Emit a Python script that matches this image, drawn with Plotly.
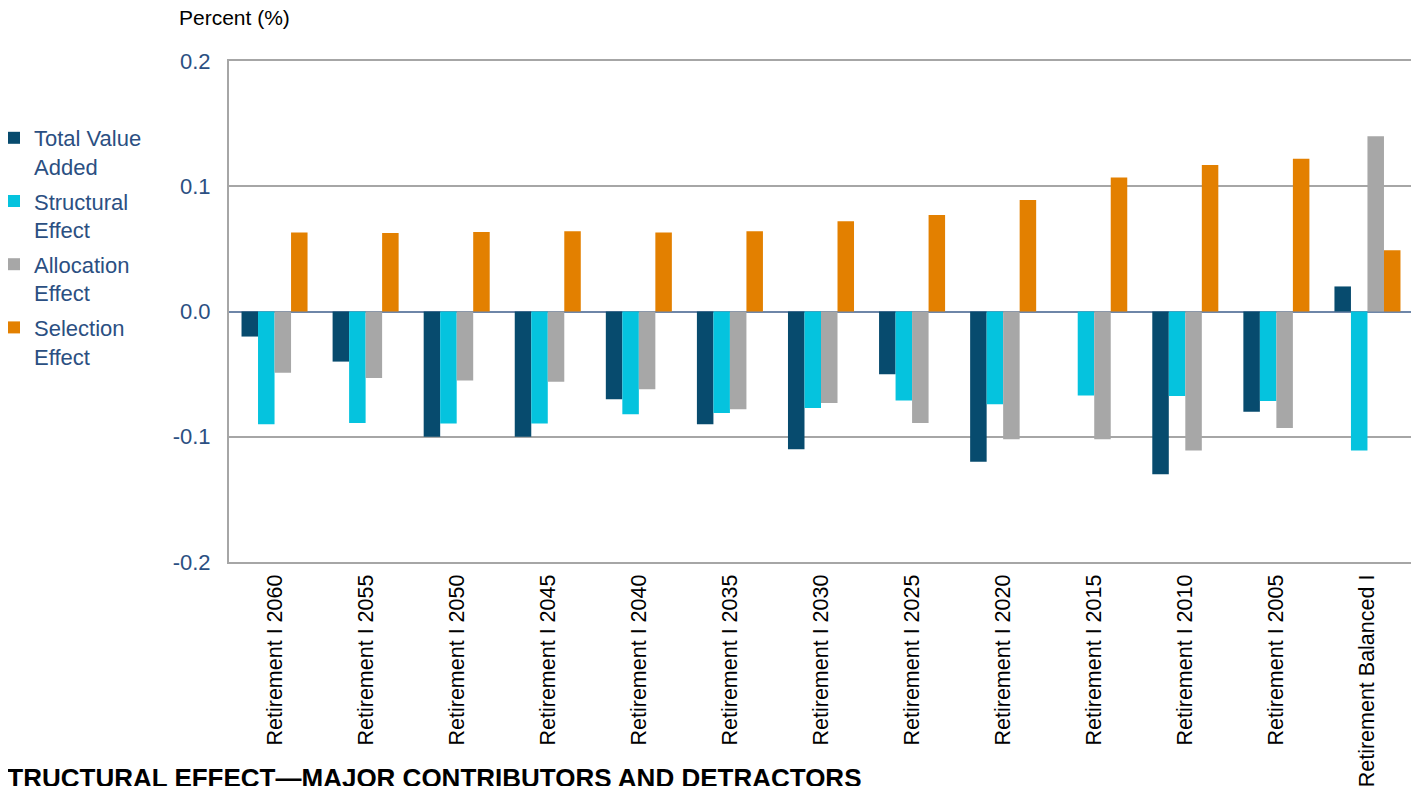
import plotly.graph_objects as go

categories = ["Retirement I 2060", "Retirement I 2055", "Retirement I 2050", "Retirement I 2045",
              "Retirement I 2040", "Retirement I 2035", "Retirement I 2030", "Retirement I 2025",
              "Retirement I 2020", "Retirement I 2015", "Retirement I 2010", "Retirement I 2005",
              "Retirement Balanced I"]
total_value_added = [-0.02, -0.04, -0.10, -0.10, -0.07, -0.09, -0.11, -0.05, -0.12, 0.0, -0.13, -0.08, 0.02]
structural_effect = [-0.090, -0.089, -0.0895, -0.0895, -0.082, -0.081, -0.077, -0.071, -0.074, -0.067, -0.0675, -0.0715, -0.111]
allocation_effect = [-0.049, -0.053, -0.055, -0.056, -0.062, -0.078, -0.073, -0.089, -0.102, -0.102, -0.111, -0.093, 0.140]
selection_effect = [0.063, 0.0627, 0.0635, 0.064, 0.063, 0.064, 0.072, 0.077, 0.089, 0.107, 0.117, 0.122, 0.049]
y_tick_vals = [-0.2, -0.1, 0.0, 0.1, 0.2]
y_tick_text = ["-0.2", "-0.1", "0.0", "0.1", "0.2"]

series = [
    ("Total Value<br>Added", total_value_added, "#074b6e"),
    ("Structural<br>Effect", structural_effect, "#05c3de"),
    ("Allocation<br>Effect", allocation_effect, "#a7a7a7"),
    ("Selection<br>Effect", selection_effect, "#e38000"),
]

FONT = "Liberation Sans, Arial, sans-serif"
BLUE_TXT = "#2b4f82"

fig = go.Figure()
for i, (name, vals, col) in enumerate(series):
    fig.add_trace(go.Bar(
        x=categories, y=vals, name=name, legendgroup=f"g{i}",
        marker=dict(color=col, line=dict(width=0)),
    ))

OFF = 8  # default page body margin
W, H = 1419 - OFF, 786 - OFF
ml, mr, mt, mb = 229 - OFF, 6, 61 - OFF, 786 - 562
pw = W - ml - mr
ph = H - mt - mb

def px_x(p):  # page pixel -> paper x
    return (p - OFF - ml) / pw

def px_y(p):  # page pixel -> paper y
    return (H - mb - (p - OFF)) / ph

fig.update_layout(
    width=W, height=H,
    margin=dict(l=ml, r=mr, t=mt, b=mb, autoexpand=False),
    paper_bgcolor="white", plot_bgcolor="white",
    barmode="group", bargap=0.275, bargroupgap=0,
    font=dict(family=FONT, size=22, color=BLUE_TXT),
    legend=dict(
        x=px_x(-6), xanchor="left", y=px_y(117), yanchor="top",
        font=dict(size=22, color=BLUE_TXT, family=FONT),
        tracegroupgap=3, itemwidth=30, valign="top",
        bgcolor="rgba(0,0,0,0)",
    ),
    showlegend=True,
)

fig.update_xaxes(
    type="category", tickangle=-90,
    tickfont=dict(size=21.5, color="black", family=FONT),
    showgrid=False, showline=True, linecolor="#a6a6a6", linewidth=2, mirror=True,
    ticks="", ticklabelstandoff=2,
)
fig.update_yaxes(
    range=[-0.2, 0.2], tickvals=y_tick_vals, ticktext=y_tick_text,
    tickfont=dict(size=22, color=BLUE_TXT, family=FONT),
    showgrid=True, gridcolor="#a6a6a6", gridwidth=1.5,
    zeroline=True, zerolinecolor="#6e86a8", zerolinewidth=2,
    showline=True, linecolor="#a6a6a6", linewidth=2, mirror=True,
    ticks="", ticklabelstandoff=12,
)

fig.add_annotation(
    text="Percent (%)", xref="paper", yref="paper",
    x=px_x(177), y=px_y(18), xanchor="left", yanchor="middle",
    showarrow=False, font=dict(size=21, color="black", family=FONT),
)
fig.add_annotation(
    text="<b>STRUCTURAL EFFECT\u2014MAJOR CONTRIBUTORS AND DETRACTORS</b>",
    xref="paper", yref="paper",
    x=px_x(863), y=px_y(778), xanchor="right", yanchor="middle",
    showarrow=False, font=dict(size=26, color="black", family=FONT),
)

fig.write_html("out.html")
